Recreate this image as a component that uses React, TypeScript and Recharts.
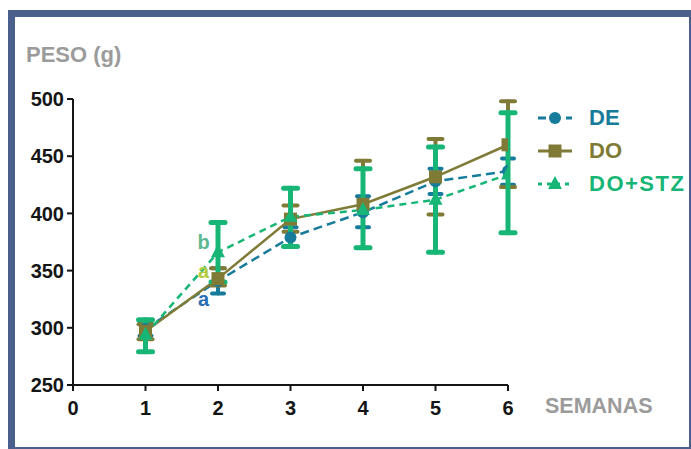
import React from 'react';
import { ComposedChart, Line, XAxis, YAxis, ErrorBar, Legend, ReferenceDot } from 'recharts';

const weeks = [1, 2, 3, 4, 5, 6];
const deMean = [299, 341, 379, 401, 428, 437];
const deLow = [293, 330, 371, 388, 417, 425];
const deHigh = [304, 352, 388, 415, 439, 448];
const doMean = [297, 343, 395, 408, 432, 460];
const doLow = [290, 337, 384, 370, 399, 423];
const doHigh = [303, 352, 407, 446, 465, 498];
const stzMean = [294, 366, 397, 403, 412, 434];
const stzLow = [279, 340, 371, 370, 366, 383];
const stzHigh = [307, 392, 422, 439, 458, 488];
const xTicks = [0, 1, 2, 3, 4, 5, 6];
const yTicks = [250, 300, 350, 400, 450, 500];
const seriesNames = ['DE', 'DO', 'DO+STZ'];
const annLetters = ['b', 'a', 'a'];
const annX = [1.8, 1.8, 1.8];
const annY = [375, 350, 325];

const BLUE = '#177b9c';
const OLIVE = '#7f7b37';
const GREEN = '#17b676';
const seriesColors = [BLUE, OLIVE, GREEN];
const annColors = ['#5db88f', '#b3cc3a', '#2a6cb5'];
const FONT = '"Liberation Sans", Arial, sans-serif';

const data = weeks.map((w, i) => ({
  week: w,
  de: deMean[i],
  deErr: [deMean[i] - deLow[i], deHigh[i] - deMean[i]],
  dO: doMean[i],
  doErr: [doMean[i] - doLow[i], doHigh[i] - doMean[i]],
  stz: stzMean[i],
  stzErr: [stzMean[i] - stzLow[i], stzHigh[i] - stzMean[i]],
}));

const CircleDot = (p: any) => <circle key={p.index} cx={p.cx} cy={p.cy} r={6} fill={BLUE} />;
const SquareDot = (p: any) => <rect key={p.index} x={p.cx - 6.5} y={p.cy - 6.5} width={13} height={13} fill={OLIVE} />;
const TriDot = (p: any) => (
  <polygon key={p.index} points={`${p.cx},${p.cy - 8} ${p.cx - 7},${p.cy + 5} ${p.cx + 7},${p.cy + 5}`} fill={GREEN} />
);

const LegendIcon = ({ i }: { i: number }) => {
  const c = seriesColors[i];
  return (
    <svg width={40} height={20} style={{ display: 'block' }}>
      {i === 0 && (
        <>
          <line x1={0} y1={10} x2={34} y2={10} stroke={c} strokeWidth={3} strokeDasharray="8 6" />
          <circle cx={17} cy={10} r={6} fill={c} />
        </>
      )}
      {i === 1 && (
        <>
          <line x1={0} y1={10} x2={34} y2={10} stroke={c} strokeWidth={3} />
          <rect x={10.5} y={3.5} width={13} height={13} fill={c} />
        </>
      )}
      {i === 2 && (
        <>
          <line x1={0} y1={10} x2={34} y2={10} stroke={c} strokeWidth={3} strokeDasharray="4 5" />
          <polygon points="17,2 10,15 24,15" fill={c} />
        </>
      )}
    </svg>
  );
};

const renderLegend = () => (
  <div style={{ fontFamily: FONT }}>
    {seriesNames.map((n, i) => (
      <div key={n} style={{ display: 'flex', alignItems: 'center', height: 33 }}>
        <LegendIcon i={i} />
        <span style={{ marginLeft: 11, fontWeight: 700, fontSize: 22, color: seriesColors[i], lineHeight: '33px', letterSpacing: i === 2 ? 1.5 : 0 }}>{n}</span>
      </div>
    ))}
  </div>
);

const tickStyle = { fontFamily: FONT, fontWeight: 700, fontSize: 20, fill: '#151515' };

export default function App() {
  return (
    <div style={{ position: 'absolute', left: 0, top: 0, width: 691, height: 449, background: '#fff', overflow: 'hidden' }}>
      <div
        style={{
          position: 'absolute', left: 8, top: 10, width: 683, height: 439, boxSizing: 'border-box',
          borderLeft: '7px solid #4b5f8d', borderTop: '7px solid #4b5f8d',
          borderRight: '2px solid #4b5f8d', borderBottom: '2px solid #4b5f8d',
        }}
      />
      <div style={{ position: 'absolute', left: 26, top: 44, fontFamily: FONT, fontWeight: 700, fontSize: 22, lineHeight: '22px', color: '#9b9b9b', whiteSpace: 'nowrap' }}>
        PESO (g)
      </div>
      <div style={{ position: 'absolute', left: 545, top: 396, fontFamily: FONT, fontWeight: 700, fontSize: 21.5, lineHeight: '21.5px', color: '#9b9b9b', whiteSpace: 'nowrap' }}>
        SEMANAS
      </div>
      <div style={{ position: 'absolute', left: 0, top: 0 }}>
        <ComposedChart width={691} height={449} data={data} margin={{ top: 99, right: 183, bottom: 24, left: 0 }}>
          <XAxis
            type="number" dataKey="week" domain={[0, 6]} ticks={xTicks} allowDataOverflow
            height={40} tickSize={6} tickMargin={10} interval={0}
            axisLine={{ stroke: '#151515', strokeWidth: 2 }} tickLine={{ stroke: '#151515', strokeWidth: 2 }}
            tick={tickStyle}
          />
          <YAxis
            type="number" domain={[250, 500]} ticks={yTicks} allowDataOverflow width={73}
            tickSize={6} tickMargin={3} interval={0}
            axisLine={{ stroke: '#151515', strokeWidth: 2 }} tickLine={{ stroke: '#151515', strokeWidth: 2 }}
            tick={tickStyle}
          />
          <Legend layout="vertical" align="center" verticalAlign="middle" content={renderLegend}
            wrapperStyle={{ left: 538, top: 101, width: 160, height: 100 }} />
          <Line dataKey="de" stroke={BLUE} strokeWidth={2.5} strokeDasharray="9 5" dot={CircleDot} activeDot={false} isAnimationActive={false}>
            <ErrorBar dataKey="deErr" direction="y" width={6} stroke={BLUE} strokeWidth={4} strokeLinecap="round" isAnimationActive={false} />
          </Line>
          <Line dataKey="dO" stroke={OLIVE} strokeWidth={2.5} dot={SquareDot} activeDot={false} isAnimationActive={false}>
            <ErrorBar dataKey="doErr" direction="y" width={7} stroke={OLIVE} strokeWidth={4} strokeLinecap="round" isAnimationActive={false} />
          </Line>
          <Line dataKey="stz" stroke={GREEN} strokeWidth={2.5} strokeDasharray="7 5" dot={TriDot} activeDot={false} isAnimationActive={false}>
            <ErrorBar dataKey="stzErr" direction="y" width={7} stroke={GREEN} strokeWidth={5} strokeLinecap="round" isAnimationActive={false} />
          </Line>
          {annLetters.map((l, i) => (
            <ReferenceDot
              key={i} x={annX[i]} y={annY[i]} r={0} ifOverflow="visible"
              shape={(p: any) => (
                <text x={p.cx} y={p.cy} dy="0.36em" textAnchor="middle" fill={annColors[i]}
                  style={{ fontFamily: FONT, fontWeight: 700, fontSize: 20 }}>{l}</text>
              )}
            />
          ))}
        </ComposedChart>
      </div>
    </div>
  );
}
